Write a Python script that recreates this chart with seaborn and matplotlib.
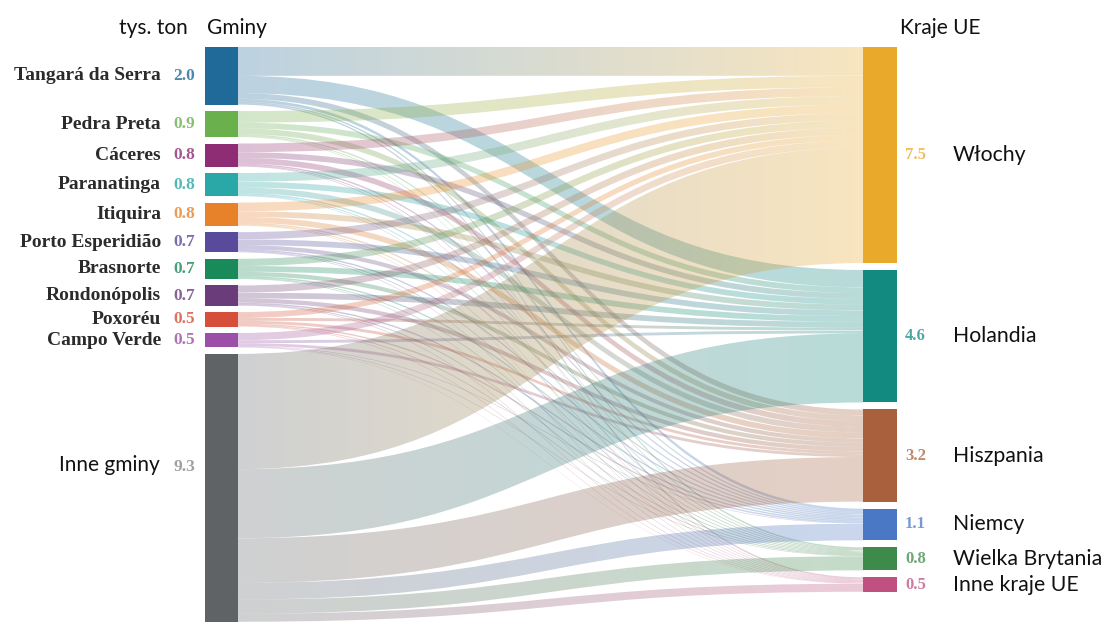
import numpy as np
import matplotlib
matplotlib.use("Agg")
import matplotlib.pyplot as plt
from matplotlib.path import Path
from matplotlib.patches import PathPatch, Rectangle
from matplotlib.colors import to_rgb
import seaborn as sns

# ---------------- data (thousand tonnes) ----------------
sources = ["Tangará da Serra", "Pedra Preta", "Cáceres", "Paranatinga", "Itiquira",
           "Porto Esperidião", "Brasnorte", "Rondonópolis", "Poxoréu", "Campo Verde",
           "Inne gminy"]
source_values = [2.0, 0.9, 0.8, 0.8, 0.8, 0.7, 0.7, 0.7, 0.5, 0.5, 9.3]
source_colors = ["#1f6a99", "#6ab04c", "#8e2c74", "#2aa7a7", "#e8822a",
                 "#5a4a9c", "#1a8a5a", "#6a3d7a", "#d64f3a", "#9b4fa8", "#5f6366"]

targets = ["Włochy", "Holandia", "Hiszpania", "Niemcy", "Wielka Brytania", "Inne kraje UE"]
target_values = [7.5, 4.6, 3.2, 1.1, 0.8, 0.5]
target_colors = ["#e9a92a", "#128a80", "#a8613c", "#4a78c4", "#3e8a4a", "#c05080"]

# flows: rows = sources, columns = targets
flow_tangara = [1.00, 0.60, 0.20, 0.10, 0.05, 0.05]
flow_pedra = [0.40, 0.20, 0.20, 0.05, 0.03, 0.02]
flow_caceres = [0.30, 0.20, 0.20, 0.05, 0.03, 0.02]
flow_paranatinga = [0.30, 0.20, 0.20, 0.05, 0.03, 0.02]
flow_itiquira = [0.30, 0.20, 0.20, 0.05, 0.03, 0.02]
flow_porto = [0.25, 0.20, 0.15, 0.05, 0.03, 0.02]
flow_brasnorte = [0.25, 0.20, 0.15, 0.05, 0.03, 0.02]
flow_rondonopolis = [0.25, 0.20, 0.15, 0.05, 0.03, 0.02]
flow_poxoreu = [0.20, 0.10, 0.10, 0.05, 0.03, 0.02]
flow_campo = [0.25, 0.10, 0.10, 0.02, 0.02, 0.01]
flow_inne = [4.00, 2.40, 1.55, 0.58, 0.49, 0.28]

flows = np.array([flow_tangara, flow_pedra, flow_caceres, flow_paranatinga, flow_itiquira,
                  flow_porto, flow_brasnorte, flow_rondonopolis, flow_poxoreu, flow_campo,
                  flow_inne])

# ---------------- style ----------------
sns.set_theme(style="white")
plt.rcParams['font.family'] = ['Lato', 'DejaVu Sans']
SERIF = ['Liberation Serif', 'DejaVu Serif']

W, H = 1105, 623
fig = plt.figure(figsize=(W / 100, H / 100), dpi=100)
ax = fig.add_axes([0, 0, 1, 1])
ax.axis('off')

PX = 28.8          # pixels per thousand tonnes
TOP = 47           # top of the node columns (px)
def py(p):         # pixel row -> data units
    return (p - TOP) / PX

SRC_X, TGT_X, NODE_W = 205, 863, 33
SRC_GAP, TGT_GAP = 6.5 / PX, 7.0 / PX

src_h = flows.sum(axis=1)
tgt_h = flows.sum(axis=0)
src_top = np.concatenate([[0], np.cumsum(src_h + SRC_GAP)[:-1]])
tgt_top = np.concatenate([[0], np.cumsum(tgt_h + TGT_GAP)[:-1]])

# offsets inside nodes
src_off = src_top[:, None] + np.concatenate([np.zeros((len(sources), 1)), np.cumsum(flows, axis=1)[:, :-1]], axis=1)
tgt_off = tgt_top[None, :] + np.concatenate([np.zeros((1, len(targets))), np.cumsum(flows, axis=0)[:-1, :]], axis=0)

x0, x1 = SRC_X + NODE_W, TGT_X
xm = (x0 + x1) / 2
ALPHA = 0.30

for i in range(len(sources)):
    for j in range(len(targets)):
        h = flows[i, j]
        if h <= 0:
            continue
        a0, a1 = src_off[i, j], tgt_off[i, j]
        verts = [(x0, a0), (xm, a0), (xm, a1), (x1, a1),
                 (x1, a1 + h), (xm, a1 + h), (xm, a0 + h), (x0, a0 + h), (x0, a0)]
        codes = [Path.MOVETO, Path.CURVE4, Path.CURVE4, Path.CURVE4,
                 Path.LINETO, Path.CURVE4, Path.CURVE4, Path.CURVE4, Path.CLOSEPOLY]
        patch = PathPatch(Path(verts, codes), facecolor='none', edgecolor='none',
                          transform=ax.transData)
        c0 = np.array(to_rgb(source_colors[i]))
        c1 = np.array(to_rgb(target_colors[j]))
        t = np.linspace(0, 1, 256)[:, None]
        rgb = c0 * (1 - t) + c1 * t
        grad = np.concatenate([rgb, np.full((256, 1), ALPHA)], axis=1)[None, :, :]
        ymin, ymax = min(a0, a1), max(a0, a1) + h
        im = ax.imshow(grad, extent=[x0, x1, ymax, ymin], aspect='auto',
                       interpolation='bilinear', zorder=1)
        im.set_clip_path(patch)

# nodes
for i, name in enumerate(sources):
    ax.add_patch(Rectangle((SRC_X, src_top[i]), NODE_W, src_h[i],
                           facecolor=source_colors[i], edgecolor='none', zorder=3))
for j, name in enumerate(targets):
    ax.add_patch(Rectangle((TGT_X, tgt_top[j]), NODE_W + 1, tgt_h[j],
                           facecolor=target_colors[j], edgecolor='none', zorder=3))

# source labels
for i, name in enumerate(sources):
    if name == "Inne gminy":
        yc = src_top[i] + 0.415 * src_h[i]
        ax.text(160, yc, name, ha='right', va='center', fontsize=15, color='#111111')
        ax.text(195, yc + 0.05, f"{source_values[i]:.1f}", ha='right', va='center',
                family=SERIF, weight='bold', fontsize=12.5, color='#a0a0a0')
    else:
        yc = src_top[i] + src_h[i] / 2
        ax.text(161, yc, name, ha='right', va='center', family=SERIF, weight='bold',
                fontsize=14, color='#2b2b2b')
        ax.text(195, yc, f"{source_values[i]:.1f}", ha='right', va='center',
                family=SERIF, weight='bold', fontsize=12.5, color=source_colors[i], alpha=0.8)

# target labels
for j, name in enumerate(targets):
    yc = tgt_top[j] + tgt_h[j] / 2
    ax.text(905, yc, f"{target_values[j]:.1f}", ha='left', va='center',
            family=SERIF, weight='bold', fontsize=12, color=target_colors[j], alpha=0.75)
    ax.text(953, yc, name, ha='left', va='center', fontsize=15.3, color='#111111')

# headers
ax.text(188, py(34), "tys. ton", ha='right', va='baseline', fontsize=15, color='#111111')
ax.text(207, py(34), "Gminy", ha='left', va='baseline', fontsize=15, color='#111111')
ax.text(900, py(34), "Kraje UE", ha='left', va='baseline', fontsize=15, color='#111111')

ax.set_xlim(0, W)
ax.set_ylim(py(H), py(0))

fig.savefig("out.png", dpi=100)
